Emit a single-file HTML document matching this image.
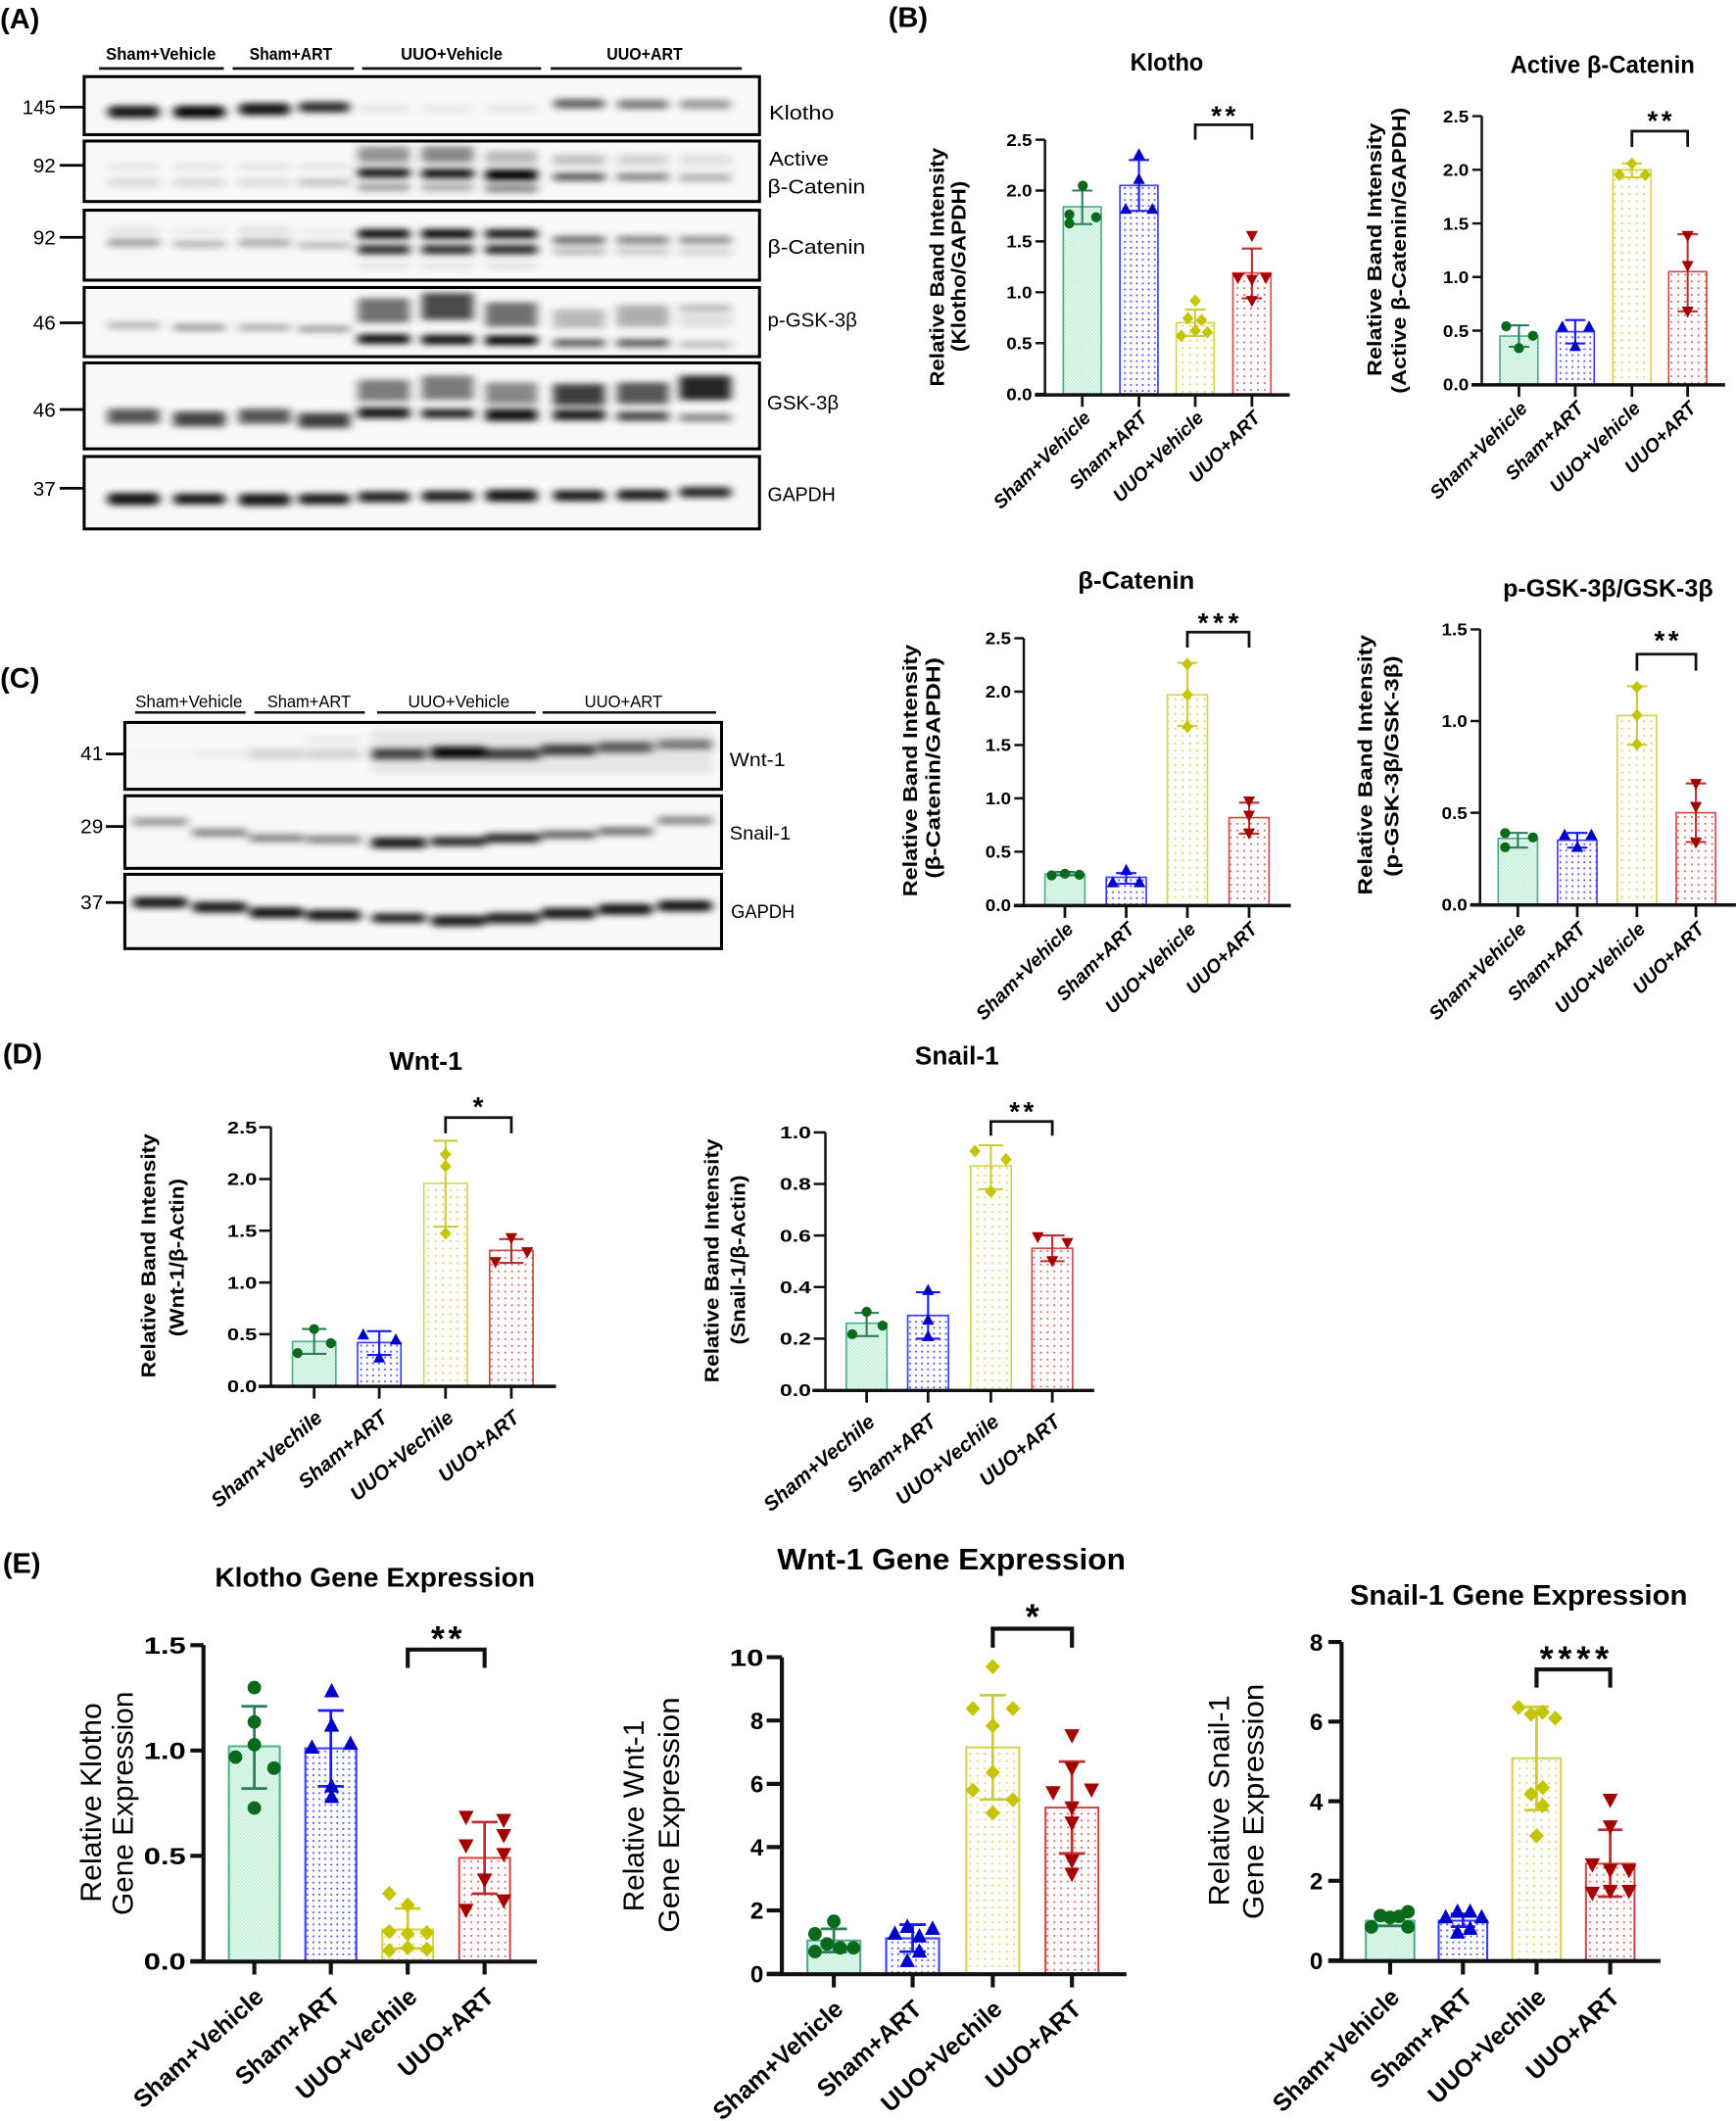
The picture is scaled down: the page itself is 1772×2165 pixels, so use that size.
<!DOCTYPE html>
<html><head><meta charset="utf-8"><style>
html,body{margin:0;padding:0;background:#fff;}
svg{display:block;}
text{font-family:"Liberation Sans",Arial,sans-serif;}
</style></head><body>
<svg xmlns="http://www.w3.org/2000/svg" width="1772" height="2165" viewBox="0 0 1280 1564">
<defs>
<pattern id="pMint" width="2.6" height="2.6" patternUnits="userSpaceOnUse"><rect width="2.6" height="2.6" fill="#f0fcf6"/><rect width="1.3" height="1.3" fill="#b8ecd2"/><rect x="1.3" y="1.3" width="1.3" height="1.3" fill="#b8ecd2"/></pattern>
<pattern id="pBlue" width="4.4" height="4.4" patternUnits="userSpaceOnUse"><rect width="4.4" height="4.4" fill="#fff"/><rect x="1.6" y="1.6" width="1.3" height="1.3" fill="#4848ff"/></pattern>
<pattern id="pYel" width="5.4" height="5.4" patternUnits="userSpaceOnUse"><rect width="5.4" height="5.4" fill="#fff"/><rect x="2" y="2" width="1.3" height="1.3" fill="#d6d650"/></pattern>
<pattern id="pRed" width="5" height="5" patternUnits="userSpaceOnUse"><rect width="5" height="5" fill="#fff"/><rect x="1.8" y="1.8" width="1.3" height="1.3" fill="#e05a5a"/></pattern>
<filter id="bl" filterUnits="userSpaceOnUse" x="0" y="0" width="1280" height="1564"><feGaussianBlur stdDeviation="3.4 2.3"/></filter>
<circle id="gB" r="3.7" fill="#0a6a1c"/>
<polygon id="tB" points="0,-4.8 -4.4,3.4 4.4,3.4" fill="#0000c8"/>
<polygon id="dB" points="0,-4.6 4.2,0 0,4.6 -4.2,0" fill="#c4c400"/>
<polygon id="iB" points="-4.4,-3.4 4.4,-3.4 0,4.8" fill="#a50000"/>
<circle id="gE" r="5" fill="#0a6a1c"/>
<polygon id="tE" points="0,-6.2 -5.6,4.4 5.6,4.4" fill="#0000c8"/>
<polygon id="dE" points="0,-5.6 5.4,0 0,5.6 -5.4,0" fill="#c4c400"/>
<polygon id="iE" points="-5.6,-4.4 5.6,-4.4 0,6.2" fill="#a50000"/>
</defs>
<rect width="1280" height="1564" fill="#fff"/>

<!-- ================= PANEL A ================= -->
<text x="0" y="21" font-size="21" font-weight="bold">(A)</text>
<g font-size="12.5" font-weight="bold" text-anchor="middle">
<text x="118.6" y="44" textLength="81" lengthAdjust="spacingAndGlyphs">Sham+Vehicle</text>
<text x="214.4" y="44" textLength="61" lengthAdjust="spacingAndGlyphs">Sham+ART</text>
<text x="333" y="44" textLength="75" lengthAdjust="spacingAndGlyphs">UUO+Vehicle</text>
<text x="475.3" y="44" textLength="56" lengthAdjust="spacingAndGlyphs">UUO+ART</text>
</g>
<path d="M73 50.5H165M171.5 50.5H261M267 50.5H399M406 50.5H547" stroke="#111" stroke-width="2"/>
<g fill="#f8f8f8">
<rect x="62" y="56.5" width="498" height="42.8"/>
<rect x="62" y="104" width="498" height="44.6"/>
<rect x="62" y="155" width="498" height="51.6"/>
<rect x="62" y="212" width="498" height="51"/>
<rect x="62" y="267.6" width="498" height="63.4"/>
<rect x="62" y="336.6" width="498" height="53.4"/>
</g>
<g filter="url(#bl)" fill="#000">
<rect x="79.5" y="78" width="38" height="9" rx="4" opacity=".9"/>
<rect x="128" y="78" width="38" height="9" rx="4" opacity=".97"/>
<rect x="176" y="76" width="38" height="9" rx="4" opacity=".9"/>
<rect x="220" y="75" width="38" height="8" rx="4" opacity=".8"/>
<rect x="264" y="76.5" width="38" height="7" rx="4" opacity=".06"/>
<rect x="311" y="76.5" width="38" height="7" rx="4" opacity=".05"/>
<rect x="358" y="76.5" width="38" height="7" rx="4" opacity=".06"/>
<rect x="408" y="73" width="38" height="7" rx="4" opacity=".6"/>
<rect x="455" y="73.5" width="38" height="7" rx="4" opacity=".5"/>
<rect x="501" y="73.5" width="38" height="7" rx="4" opacity=".38"/>
<rect x="79.5" y="120.5" width="38" height="5" opacity=".07"/><rect x="79.5" y="131.5" width="38" height="6" opacity=".13"/>
<rect x="128" y="120.5" width="38" height="5" opacity=".07"/><rect x="128" y="131.5" width="38" height="6" opacity=".13"/>
<rect x="176" y="120.5" width="38" height="5" opacity=".08"/><rect x="176" y="131.5" width="38" height="6" opacity=".12"/>
<rect x="220" y="120.5" width="38" height="5" opacity=".07"/><rect x="220" y="131.5" width="38" height="6" opacity=".2"/>
<rect x="264" y="108" width="38" height="12" opacity=".4"/><rect x="264" y="124" width="38" height="7" opacity=".9"/><rect x="264" y="135" width="38" height="6" opacity=".35"/>
<rect x="311" y="108" width="38" height="12" opacity=".45"/><rect x="311" y="124.5" width="38" height="7" opacity=".92"/><rect x="311" y="135" width="38" height="6" opacity=".3"/>
<rect x="358" y="111" width="38" height="10" opacity=".25"/><rect x="358" y="125" width="38" height="8" opacity="1"/><rect x="358" y="136" width="38" height="6" opacity=".45"/>
<rect x="408" y="114" width="38" height="8" opacity=".22"/><rect x="408" y="127.5" width="38" height="6" opacity=".62"/>
<rect x="455" y="114" width="38" height="8" opacity=".15"/><rect x="455" y="127.5" width="38" height="6" opacity=".45"/>
<rect x="501" y="114" width="38" height="8" opacity=".1"/><rect x="501" y="128" width="38" height="6" opacity=".28"/>
<rect x="79.5" y="168" width="38" height="4" opacity=".1"/><rect x="79.5" y="176" width="38" height="6" opacity=".35"/>
<rect x="128" y="168" width="38" height="4" opacity=".06"/><rect x="128" y="177.5" width="38" height="5" opacity=".28"/>
<rect x="176" y="168" width="38" height="4" opacity=".12"/><rect x="176" y="176" width="38" height="6" opacity=".3"/>
<rect x="220" y="169" width="38" height="4" opacity=".06"/><rect x="220" y="178.5" width="38" height="5" opacity=".25"/>
<rect x="264" y="169" width="38" height="7" opacity=".95"/><rect x="264" y="180.5" width="38" height="7" opacity=".8"/><rect x="264" y="193.5" width="38" height="5" opacity=".08"/>
<rect x="311" y="169" width="38" height="7" opacity=".97"/><rect x="311" y="180.5" width="38" height="7" opacity=".8"/><rect x="311" y="193.5" width="38" height="5" opacity=".08"/>
<rect x="358" y="169" width="38" height="7" opacity=".9"/><rect x="358" y="180.5" width="38" height="7" opacity=".82"/><rect x="358" y="193.5" width="38" height="5" opacity=".08"/>
<rect x="408" y="174" width="38" height="6" opacity=".55"/><rect x="408" y="183" width="38" height="5" opacity=".25"/>
<rect x="455" y="174" width="38" height="6" opacity=".45"/><rect x="455" y="183" width="38" height="5" opacity=".2"/>
<rect x="501" y="174" width="38" height="6" opacity=".4"/><rect x="501" y="183.5" width="38" height="5" opacity=".15"/>
<rect x="79.5" y="237.5" width="38" height="5" opacity=".28"/>
<rect x="128" y="239" width="38" height="5" opacity=".38"/>
<rect x="176" y="239" width="38" height="5" opacity=".3"/>
<rect x="220" y="240" width="38" height="5" opacity=".35"/>
<rect x="264" y="220" width="38" height="18" opacity=".55"/><rect x="264" y="246.5" width="38" height="7" opacity=".95"/>
<rect x="311" y="216" width="38" height="20" opacity=".7"/><rect x="311" y="247" width="38" height="7" opacity=".95"/>
<rect x="358" y="223" width="38" height="18" opacity=".55"/><rect x="358" y="247.5" width="38" height="7" opacity=".98"/>
<rect x="408" y="228" width="38" height="14" opacity=".25"/><rect x="408" y="250" width="38" height="6" opacity=".6"/>
<rect x="455" y="225" width="38" height="16" opacity=".3"/><rect x="455" y="250" width="38" height="6" opacity=".62"/>
<rect x="501" y="225" width="38" height="4" opacity=".3"/><rect x="501" y="231" width="38" height="10" opacity=".1"/><rect x="501" y="251.5" width="38" height="5" opacity=".25"/>
<rect x="79.5" y="301.5" width="38" height="11" opacity=".65"/>
<rect x="128" y="303.5" width="38" height="11" opacity=".72"/>
<rect x="176" y="301.5" width="38" height="11" opacity=".65"/>
<rect x="220" y="304.5" width="38" height="11" opacity=".75"/>
<rect x="264" y="280" width="38" height="16" opacity=".5"/><rect x="264" y="300.5" width="38" height="8" opacity=".9"/>
<rect x="311" y="277" width="38" height="18" opacity=".5"/><rect x="311" y="301.5" width="38" height="7" opacity=".85"/>
<rect x="358" y="282" width="38" height="16" opacity=".45"/><rect x="358" y="301.5" width="38" height="9" opacity=".92"/>
<rect x="408" y="283" width="38" height="16" opacity=".75"/><rect x="408" y="302" width="38" height="8" opacity=".88"/>
<rect x="455" y="282" width="38" height="16" opacity=".65"/><rect x="455" y="303.5" width="38" height="7" opacity=".7"/>
<rect x="501" y="277" width="38" height="18" opacity=".85"/><rect x="501" y="305" width="38" height="6" opacity=".45"/>
<rect x="79.5" y="363.5" width="38" height="9" rx="3" opacity=".92"/>
<rect x="128" y="364" width="38" height="8" rx="3" opacity=".9"/>
<rect x="176" y="364" width="38" height="9" rx="3" opacity=".9"/>
<rect x="220" y="364" width="38" height="8" rx="3" opacity=".88"/>
<rect x="264" y="362.5" width="38" height="8" rx="3" opacity=".85"/>
<rect x="311" y="362" width="38" height="8" rx="3" opacity=".87"/>
<rect x="358" y="361" width="38" height="9" rx="3" opacity=".9"/>
<rect x="408" y="361.5" width="38" height="8" rx="3" opacity=".88"/>
<rect x="455" y="361" width="38" height="8" rx="3" opacity=".88"/>
<rect x="501" y="359" width="38" height="8" rx="3" opacity=".82"/>
</g>
<g fill="none" stroke="#000" stroke-width="2.2">
<rect x="62" y="56.5" width="498" height="42.8"/>
<rect x="62" y="104" width="498" height="44.6"/>
<rect x="62" y="155" width="498" height="51.6"/>
<rect x="62" y="212" width="498" height="51"/>
<rect x="62" y="267.6" width="498" height="63.4"/>
<rect x="62" y="336.6" width="498" height="53.4"/>
</g>
<path d="M44 79H62M44 121.9H62M44 175H62M44 238H62M44 302H62M44 360H62" stroke="#000" stroke-width="2"/>
<g font-size="15" text-anchor="end">
<text x="41" y="84.3" textLength="24.6" lengthAdjust="spacingAndGlyphs">145</text>
<text x="41" y="127">92</text>
<text x="41" y="180.2">92</text>
<text x="41" y="243.2">46</text>
<text x="41" y="307.3">46</text>
<text x="41" y="365.6">37</text>
</g>
<g font-size="15">
<text x="567" y="88" textLength="48" lengthAdjust="spacingAndGlyphs">Klotho</text>
<text x="567" y="122" textLength="44" lengthAdjust="spacingAndGlyphs">Active</text>
<text x="566" y="142.6" textLength="72" lengthAdjust="spacingAndGlyphs">β-Catenin</text>
<text x="566" y="187" textLength="72" lengthAdjust="spacingAndGlyphs">β-Catenin</text>
<text x="566" y="241" textLength="66" lengthAdjust="spacingAndGlyphs">p-GSK-3β</text>
<text x="565.5" y="302" textLength="53" lengthAdjust="spacingAndGlyphs">GSK-3β</text>
<text x="566" y="369.5" textLength="50" lengthAdjust="spacingAndGlyphs">GAPDH</text>
</g>

<!-- ================= PANEL C ================= -->
<text x="0" y="507" font-size="21" font-weight="bold">(C)</text>
<g font-size="13" text-anchor="middle">
<text x="139.2" y="521.7" textLength="79" lengthAdjust="spacingAndGlyphs">Sham+Vehicle</text>
<text x="227.8" y="521.7" textLength="61.6" lengthAdjust="spacingAndGlyphs">Sham+ART</text>
<text x="338.3" y="521.7" textLength="75" lengthAdjust="spacingAndGlyphs">UUO+Vehicle</text>
<text x="459.7" y="521.7" textLength="57.4" lengthAdjust="spacingAndGlyphs">UUO+ART</text>
</g>
<path d="M99.6 525.4H181M187.6 525.4H269M278 525.4H395M400 525.4H528" stroke="#111" stroke-width="1.8"/>
<g fill="#f8f8f8">
<rect x="92" y="532.7" width="440" height="49.3"/>
<rect x="92" y="586.8" width="440" height="53.5"/>
<rect x="92" y="644.7" width="440" height="54.8"/>
</g>
<g filter="url(#bl)" fill="#000">
<rect x="274" y="538" width="251" height="32" opacity=".07"/>
<rect x="98" y="552.5" width="40" height="7" opacity=".02"/>
<rect x="142" y="552.5" width="40" height="7" opacity=".04"/>
<rect x="184" y="552" width="40" height="8" opacity=".15"/>
<rect x="226" y="552" width="40" height="8" opacity=".15"/>
<rect x="226" y="542.5" width="40" height="5" opacity=".06"/>
<rect x="274" y="552" width="40" height="8" opacity=".72"/>
<rect x="318" y="550.5" width="40" height="9" opacity=".97"/>
<rect x="358" y="552" width="40" height="8" opacity=".75"/>
<rect x="399" y="549" width="40" height="8" opacity=".75"/>
<rect x="441" y="547" width="40" height="8" opacity=".62"/>
<rect x="485" y="545.5" width="40" height="7" opacity=".5"/>
<rect x="98" y="603" width="40" height="6" opacity=".38"/>
<rect x="142" y="611" width="40" height="6" opacity=".45"/>
<rect x="184" y="615" width="40" height="6" opacity=".45"/>
<rect x="226" y="616" width="40" height="6" opacity=".45"/>
<rect x="274" y="617.5" width="40" height="8" opacity=".88"/>
<rect x="318" y="617" width="40" height="7" opacity=".82"/>
<rect x="358" y="614.5" width="40" height="7" opacity=".82"/>
<rect x="399" y="612.5" width="40" height="6" opacity=".6"/>
<rect x="441" y="610" width="40" height="6" opacity=".55"/>
<rect x="485" y="602" width="40" height="6" opacity=".45"/>
<rect x="98" y="661.5" width="40" height="8" rx="3" opacity=".9"/>
<rect x="142" y="665" width="40" height="8" rx="3" opacity=".88"/>
<rect x="184" y="669" width="40" height="8" rx="3" opacity=".92"/>
<rect x="226" y="671" width="40" height="8" rx="3" opacity=".9"/>
<rect x="274" y="673.5" width="40" height="7" rx="3" opacity=".85"/>
<rect x="318" y="675" width="40" height="8" rx="3" opacity=".88"/>
<rect x="358" y="673" width="40" height="8" rx="3" opacity=".85"/>
<rect x="399" y="669.5" width="40" height="8" rx="3" opacity=".9"/>
<rect x="441" y="666.5" width="40" height="8" rx="3" opacity=".92"/>
<rect x="485" y="664" width="40" height="8" rx="3" opacity=".92"/>
</g>
<g fill="none" stroke="#000" stroke-width="2.2">
<rect x="92" y="532.7" width="440" height="49.3"/>
<rect x="92" y="586.8" width="440" height="53.5"/>
<rect x="92" y="644.7" width="440" height="54.8"/>
</g>
<path d="M78 556H92M78 609.4H92M78 665.5H92" stroke="#000" stroke-width="2"/>
<g font-size="15" text-anchor="end">
<text x="76" y="560.7">41</text>
<text x="76" y="614.3">29</text>
<text x="76" y="670.3">37</text>
</g>
<g font-size="14">
<text x="538" y="565" textLength="41" lengthAdjust="spacingAndGlyphs">Wnt-1</text>
<text x="538" y="619" textLength="45" lengthAdjust="spacingAndGlyphs">Snail-1</text>
<text x="539" y="677" textLength="47" lengthAdjust="spacingAndGlyphs">GAPDH</text>
</g>

<!-- ================= PANEL B ================= -->
<text x="655" y="20" font-size="21" font-weight="bold">(B)</text>

<g>
<text x="860.3" y="52" font-size="18" font-weight="bold" text-anchor="middle" textLength="54" lengthAdjust="spacingAndGlyphs">Klotho</text>
<rect x="784" y="152.5" width="28" height="138" fill="url(#pMint)" stroke="#4fae8c" stroke-width="1.2"/>
<rect x="825.8" y="136.75" width="28" height="153.75" fill="url(#pBlue)" stroke="#3c3cff" stroke-width="1.2"/>
<rect x="867.3" y="238" width="28" height="52.5" fill="url(#pYel)" stroke="#d4d44c" stroke-width="1.2"/>
<rect x="909.1" y="201.25" width="28" height="89.25" fill="url(#pRed)" stroke="#d04848" stroke-width="1.2"/>
<g fill="none" stroke-width="1.5">
<path d="M798 165.25V140.5M790.5 165.25H805.5M790.5 140.5H805.5" stroke="#2b7d5c"/>
<path d="M839.8 155.5V118M832.3 155.5H847.3M832.3 118H847.3" stroke="#1a1aff"/>
<path d="M881.3 247.75V228.25M873.8 247.75H888.8M873.8 228.25H888.8" stroke="#cccc3a"/>
<path d="M923.1 220V183.25M915.6 220H930.6M915.6 183.25H930.6" stroke="#b83030"/>
</g>
<use href="#gB" x="798.4" y="136.9"/><use href="#gB" x="788.5" y="158.2"/><use href="#gB" x="808.2" y="160.2"/><use href="#gB" x="788.5" y="164.7"/>
<use href="#tB" x="839.8" y="114.1"/><use href="#tB" x="839.8" y="132.2"/><use href="#tB" x="830" y="154.3"/><use href="#tB" x="849.7" y="154.3"/>
<use href="#dB" x="881.3" y="221.7"/><use href="#dB" x="875.9" y="234.7"/><use href="#dB" x="886" y="236"/><use href="#dB" x="881.3" y="243.7"/><use href="#dB" x="871" y="247.6"/><use href="#dB" x="890.3" y="245"/>
<use href="#iB" x="923.1" y="173.7"/><use href="#iB" x="912.8" y="204.8"/><use href="#iB" x="933.4" y="204.8"/><use href="#iB" x="923.1" y="206.1"/><use href="#iB" x="923.1" y="221.7"/>
<g stroke="#111" fill="none">
<path d="M770.5 103V291.5" stroke-width="1.8"/>
<path d="M763 291.2H951" stroke-width="2.5"/>
<path d="M763.5 290.5H770.5M763.5 253H770.5M763.5 215.5H770.5M763.5 178H770.5M763.5 140.5H770.5M763.5 103H770.5" stroke-width="1.8"/>
<path d="M798 291V300M839.8 291V300M881.3 291V300M923.1 291V300" stroke-width="2"/>
<path d="M881.3 103V92H923.1V103" stroke-width="2"/>
</g>
<g font-size="13" font-weight="bold" text-anchor="end">
<text x="761" y="295" textLength="19" lengthAdjust="spacingAndGlyphs">0.0</text>
<text x="761" y="257.5" textLength="19" lengthAdjust="spacingAndGlyphs">0.5</text>
<text x="761" y="220" textLength="19" lengthAdjust="spacingAndGlyphs">1.0</text>
<text x="761" y="182.5" textLength="19" lengthAdjust="spacingAndGlyphs">1.5</text>
<text x="761" y="145" textLength="19" lengthAdjust="spacingAndGlyphs">2.0</text>
<text x="761" y="107.5" textLength="19" lengthAdjust="spacingAndGlyphs">2.5</text>
</g>
<text x="903.3" y="92" font-size="20" font-weight="bold" text-anchor="middle" letter-spacing="2.5">**</text>
<g font-size="15" font-weight="bold" text-anchor="middle">
<text transform="translate(696,197) rotate(-90)" textLength="176" lengthAdjust="spacingAndGlyphs">Relative Band Intensity</text>
<text transform="translate(712,196.4) rotate(-90)" textLength="126" lengthAdjust="spacingAndGlyphs">(Klotho/GAPDH)</text>
</g>
<g font-size="14" font-weight="bold" font-style="italic" text-anchor="end">
<text transform="translate(805,309) rotate(-45)">Sham+Vehicle</text>
<text transform="translate(846.8,309) rotate(-45)">Sham+ART</text>
<text transform="translate(888.3,309) rotate(-45)">UUO+Vehicle</text>
<text transform="translate(930.1,309) rotate(-45)">UUO+ART</text>
</g>
</g>

<g>
<text x="1181.6" y="54" font-size="18" font-weight="bold" text-anchor="middle" textLength="136" lengthAdjust="spacingAndGlyphs">Active β-Catenin</text>
<rect x="1106" y="247.8" width="28" height="35.6" fill="url(#pMint)" stroke="#4fae8c" stroke-width="1.2"/>
<rect x="1147.5" y="244.6" width="28" height="38.8" fill="url(#pBlue)" stroke="#3c3cff" stroke-width="1.2"/>
<rect x="1189.3" y="125.2" width="28" height="158.2" fill="url(#pYel)" stroke="#d4d44c" stroke-width="1.2"/>
<rect x="1230.4" y="200.3" width="28" height="83.1" fill="url(#pRed)" stroke="#d04848" stroke-width="1.2"/>
<g fill="none" stroke-width="1.5">
<path d="M1120 255.7V239.9M1112.5 255.7H1127.5M1112.5 239.9H1127.5" stroke="#2b7d5c"/>
<path d="M1161.5 253.3V236M1154 253.3H1169M1154 236H1169" stroke="#1a1aff"/>
<path d="M1203.3 130.7V120.5M1195.8 130.7H1210.8M1195.8 120.5H1210.8" stroke="#cccc3a"/>
<path d="M1244.4 229.6V172.7M1236.9 229.6H1251.9M1236.9 172.7H1251.9" stroke="#b83030"/>
</g>
<use href="#gB" x="1110.6" y="240.6"/><use href="#gB" x="1130.3" y="247.6"/><use href="#gB" x="1120" y="256.7"/>
<use href="#tB" x="1152" y="241.1"/><use href="#tB" x="1171.7" y="241.1"/><use href="#tB" x="1161.5" y="255.4"/>
<use href="#dB" x="1203.3" y="120.6"/><use href="#dB" x="1193.9" y="128.9"/><use href="#dB" x="1213.2" y="128.9"/>
<use href="#iB" x="1244.4" y="173.7"/><use href="#iB" x="1244.4" y="195.8"/><use href="#iB" x="1244.4" y="229.5"/>
<g stroke="#111" fill="none">
<path d="M1092.6 85.6V284" stroke-width="1.8"/>
<path d="M1085 283.8H1272" stroke-width="2.5"/>
<path d="M1085.6 283.4H1092.6M1085.6 243.85H1092.6M1085.6 204.3H1092.6M1085.6 164.75H1092.6M1085.6 125.2H1092.6M1085.6 85.65H1092.6" stroke-width="1.8"/>
<path d="M1120 283.6V292.6M1161.5 283.6V292.6M1203.3 283.6V292.6M1244.4 283.6V292.6" stroke-width="2"/>
<path d="M1203.3 108.4V96.7H1244.4V108.4" stroke-width="2"/>
</g>
<g font-size="13" font-weight="bold" text-anchor="end">
<text x="1083" y="287.9" textLength="19" lengthAdjust="spacingAndGlyphs">0.0</text>
<text x="1083" y="248.35" textLength="19" lengthAdjust="spacingAndGlyphs">0.5</text>
<text x="1083" y="208.8" textLength="19" lengthAdjust="spacingAndGlyphs">1.0</text>
<text x="1083" y="169.25" textLength="19" lengthAdjust="spacingAndGlyphs">1.5</text>
<text x="1083" y="129.7" textLength="19" lengthAdjust="spacingAndGlyphs">2.0</text>
<text x="1083" y="90.15" textLength="19" lengthAdjust="spacingAndGlyphs">2.5</text>
</g>
<text x="1225" y="95.6" font-size="20" font-weight="bold" text-anchor="middle" letter-spacing="2.5">**</text>
<g font-size="15" font-weight="bold" text-anchor="middle">
<text transform="translate(1018.4,184.1) rotate(-90)" textLength="186.6" lengthAdjust="spacingAndGlyphs">Relative Band Intensity</text>
<text transform="translate(1036.5,184.7) rotate(-90)" textLength="211" lengthAdjust="spacingAndGlyphs">(Active β-Catenin/GAPDH)</text>
</g>
<g font-size="14" font-weight="bold" font-style="italic" text-anchor="end">
<text transform="translate(1127,302) rotate(-45)">Sham+Vehicle</text>
<text transform="translate(1168.5,302) rotate(-45)">Sham+ART</text>
<text transform="translate(1210.3,302) rotate(-45)">UUO+Vehicle</text>
<text transform="translate(1251.4,302) rotate(-45)">UUO+ART</text>
</g>
</g>

<g>
<text x="837.8" y="434" font-size="18" font-weight="bold" text-anchor="middle" textLength="86" lengthAdjust="spacingAndGlyphs">β-Catenin</text>
<rect x="770.45" y="644.6" width="29.5" height="22.8" fill="url(#pMint)" stroke="#4fae8c" stroke-width="1.2"/>
<rect x="815.65" y="646.9" width="29.5" height="20.5" fill="url(#pBlue)" stroke="#3c3cff" stroke-width="1.2"/>
<rect x="860.75" y="512.4" width="29.5" height="155" fill="url(#pYel)" stroke="#d4d44c" stroke-width="1.2"/>
<rect x="906.25" y="602.9" width="29.5" height="64.5" fill="url(#pRed)" stroke="#d04848" stroke-width="1.2"/>
<g fill="none" stroke-width="1.5">
<path d="M785.2 645.4V643M777.7 645.4H792.7M777.7 643H792.7" stroke="#2b7d5c"/>
<path d="M830.4 651.7V643.8M822.9 651.7H837.9M822.9 643.8H837.9" stroke="#1a1aff"/>
<path d="M875.5 535.2V488.8M868 535.2H883M868 488.8H883" stroke="#cccc3a"/>
<path d="M921 614.7V591.9M913.5 614.7H928.5M913.5 591.9H928.5" stroke="#b83030"/>
</g>
<use href="#gB" x="775.4" y="645.5"/><use href="#gB" x="785.2" y="644.3"/><use href="#gB" x="795.9" y="645"/>
<use href="#tB" x="830.4" y="641.8"/><use href="#tB" x="820.5" y="650.8"/><use href="#tB" x="840.2" y="650.8"/>
<use href="#dB" x="875.5" y="489.7"/><use href="#dB" x="875.5" y="512.3"/><use href="#dB" x="875.5" y="535.9"/>
<use href="#iB" x="921" y="590.7"/><use href="#iB" x="921" y="601.2"/><use href="#iB" x="921" y="614.3"/>
<g stroke="#111" fill="none">
<path d="M754.9 470.6V668" stroke-width="1.8"/>
<path d="M747.5 667.8H951.8" stroke-width="2.5"/>
<path d="M747.9 667.4H754.9M747.9 628.05H754.9M747.9 588.7H754.9M747.9 549.35H754.9M747.9 510H754.9M747.9 470.65H754.9" stroke-width="1.8"/>
<path d="M785.2 667.8V676.8M830.4 667.8V676.8M875.5 667.8V676.8M921 667.8V676.8" stroke-width="2"/>
<path d="M875.5 477.5V466.1H921V477.5" stroke-width="2"/>
</g>
<g font-size="13" font-weight="bold" text-anchor="end">
<text x="745.5" y="671.9" textLength="19" lengthAdjust="spacingAndGlyphs">0.0</text>
<text x="745.5" y="632.55" textLength="19" lengthAdjust="spacingAndGlyphs">0.5</text>
<text x="745.5" y="593.2" textLength="19" lengthAdjust="spacingAndGlyphs">1.0</text>
<text x="745.5" y="553.85" textLength="19" lengthAdjust="spacingAndGlyphs">1.5</text>
<text x="745.5" y="514.5" textLength="19" lengthAdjust="spacingAndGlyphs">2.0</text>
<text x="745.5" y="475.15" textLength="19" lengthAdjust="spacingAndGlyphs">2.5</text>
</g>
<text x="900" y="466" font-size="20" font-weight="bold" text-anchor="middle" letter-spacing="3.4">***</text>
<g font-size="15" font-weight="bold" text-anchor="middle">
<text transform="translate(676,568.2) rotate(-90)" textLength="186" lengthAdjust="spacingAndGlyphs">Relative Band Intensity</text>
<text transform="translate(693,566.3) rotate(-90)" textLength="163" lengthAdjust="spacingAndGlyphs">(β-Catenin/GAPDH)</text>
</g>
<g font-size="14" font-weight="bold" font-style="italic" text-anchor="end">
<text transform="translate(792.2,686) rotate(-45)">Sham+Vehicle</text>
<text transform="translate(837.4,686) rotate(-45)">Sham+ART</text>
<text transform="translate(882.5,686) rotate(-45)">UUO+Vehicle</text>
<text transform="translate(928,686) rotate(-45)">UUO+ART</text>
</g>
</g>

<g>
<text x="1185.7" y="440" font-size="18" font-weight="bold" text-anchor="middle" textLength="155" lengthAdjust="spacingAndGlyphs">p-GSK-3β/GSK-3β</text>
<rect x="1104.7" y="618.2" width="29" height="48.7" fill="url(#pMint)" stroke="#4fae8c" stroke-width="1.2"/>
<rect x="1148.5" y="619.6" width="29" height="47.3" fill="url(#pBlue)" stroke="#3c3cff" stroke-width="1.2"/>
<rect x="1192.5" y="527.6" width="29" height="139.3" fill="url(#pYel)" stroke="#d4d44c" stroke-width="1.2"/>
<rect x="1236" y="599.3" width="29" height="67.6" fill="url(#pRed)" stroke="#d04848" stroke-width="1.2"/>
<g fill="none" stroke-width="1.5">
<path d="M1119.2 625V614.2M1111.7 625H1126.7M1111.7 614.2H1126.7" stroke="#2b7d5c"/>
<path d="M1163 625V614.2M1155.5 625H1170.5M1155.5 614.2H1170.5" stroke="#1a1aff"/>
<path d="M1207 549.3V506M1199.5 549.3H1214.5M1199.5 506H1214.5" stroke="#cccc3a"/>
<path d="M1250.5 620.9V577.7M1243 620.9H1258M1243 577.7H1258" stroke="#b83030"/>
</g>
<use href="#gB" x="1109.8" y="614.3"/><use href="#gB" x="1130.3" y="617.5"/><use href="#gB" x="1109.8" y="624.8"/>
<use href="#tB" x="1153.7" y="615.8"/><use href="#tB" x="1173.4" y="615.8"/><use href="#tB" x="1163.1" y="624.8"/>
<use href="#dB" x="1207" y="506.7"/><use href="#dB" x="1207" y="527.4"/><use href="#dB" x="1207" y="548.8"/>
<use href="#iB" x="1250.5" y="577.8"/><use href="#iB" x="1250.5" y="594.8"/><use href="#iB" x="1250.5" y="621.1"/>
<g stroke="#111" fill="none">
<path d="M1091.3 464V667.5" stroke-width="1.8"/>
<path d="M1084 667.3H1280" stroke-width="2.5"/>
<path d="M1084.3 666.9H1091.3M1084.3 599.3H1091.3M1084.3 531.7H1091.3M1084.3 464.1H1091.3" stroke-width="1.8"/>
<path d="M1119.2 667.3V676.3M1163 667.3V676.3M1207 667.3V676.3M1250.5 667.3V676.3" stroke-width="2"/>
<path d="M1207 494.6V482.4H1250.5V494.6" stroke-width="2"/>
</g>
<g font-size="13" font-weight="bold" text-anchor="end">
<text x="1082" y="671.4" textLength="19" lengthAdjust="spacingAndGlyphs">0.0</text>
<text x="1082" y="603.8" textLength="19" lengthAdjust="spacingAndGlyphs">0.5</text>
<text x="1082" y="536.2" textLength="19" lengthAdjust="spacingAndGlyphs">1.0</text>
<text x="1082" y="468.6" textLength="19" lengthAdjust="spacingAndGlyphs">1.5</text>
</g>
<text x="1230" y="479" font-size="20" font-weight="bold" text-anchor="middle" letter-spacing="2.5">**</text>
<g font-size="15" font-weight="bold" text-anchor="middle">
<text transform="translate(1011.5,564) rotate(-90)" textLength="191.8" lengthAdjust="spacingAndGlyphs">Relative Band Intensity</text>
<text transform="translate(1031,565) rotate(-90)" textLength="163" lengthAdjust="spacingAndGlyphs">(p-GSK-3β/GSK-3β)</text>
</g>
<g font-size="14" font-weight="bold" font-style="italic" text-anchor="end">
<text transform="translate(1126.2,686) rotate(-45)">Sham+Vehicle</text>
<text transform="translate(1170,686) rotate(-45)">Sham+ART</text>
<text transform="translate(1214,686) rotate(-45)">UUO+Vehicle</text>
<text transform="translate(1257.5,686) rotate(-45)">UUO+ART</text>
</g>
</g>

<!-- ================= PANEL D ================= -->
<text x="2" y="784" font-size="21" font-weight="bold">(D)</text>

<g>
<text x="314" y="789" font-size="19" font-weight="bold" text-anchor="middle" textLength="54" lengthAdjust="spacingAndGlyphs">Wnt-1</text>
<rect x="215.6" y="989.2" width="32" height="32.8" fill="url(#pMint)" stroke="#4fae8c" stroke-width="1.2"/>
<rect x="263.6" y="990" width="32" height="32" fill="url(#pBlue)" stroke="#3c3cff" stroke-width="1.2"/>
<rect x="312.5" y="872.5" width="32" height="149.5" fill="url(#pYel)" stroke="#d4d44c" stroke-width="1.2"/>
<rect x="361" y="922" width="32" height="100" fill="url(#pRed)" stroke="#d04848" stroke-width="1.2"/>
<g fill="none" stroke-width="1.5">
<path d="M231.6 998.3V980M222.6 998.3H240.6M222.6 980H240.6" stroke="#2b7d5c"/>
<path d="M279.6 999.1V981.6M270.6 999.1H288.6M270.6 981.6H288.6" stroke="#1a1aff"/>
<path d="M328.5 904.5V841.2M319.5 904.5H337.5M319.5 841.2H337.5" stroke="#cccc3a"/>
<path d="M377 931.2V913.7M368 931.2H386M368 913.7H386" stroke="#b83030"/>
</g>
<use href="#gB" x="231.6" y="980"/><use href="#gB" x="243.9" y="990.4"/><use href="#gB" x="219.4" y="997.7"/>
<use href="#tB" x="267.8" y="984.3"/><use href="#tB" x="291.8" y="988"/><use href="#tB" x="279.6" y="1001.3"/>
<use href="#dB" x="328.5" y="851.2"/><use href="#dB" x="328.5" y="860"/><use href="#dB" x="328.5" y="909.5"/>
<use href="#iB" x="377" y="912.7"/><use href="#iB" x="388.7" y="923.1"/><use href="#iB" x="365.3" y="930.4"/>
<g stroke="#111" fill="none">
<path d="M199.7 831V1022.5" stroke-width="1.8"/>
<path d="M190.6 1022.3H410" stroke-width="2.5"/>
<path d="M191 1022H199.7M191 983.85H199.7M191 945.7H199.7M191 907.55H199.7M191 869.4H199.7M191 831.25H199.7" stroke-width="1.8"/>
<path d="M231.6 1022.3V1031.3M279.6 1022.3V1031.3M328.5 1022.3V1031.3M377 1022.3V1031.3" stroke-width="2"/>
<path d="M328.5 835.7V824.1H377V835.7" stroke-width="2"/>
</g>
<g font-size="13" font-weight="bold" text-anchor="end">
<text x="189.5" y="1026.5" textLength="22" lengthAdjust="spacingAndGlyphs">0.0</text>
<text x="189.5" y="988.35" textLength="22" lengthAdjust="spacingAndGlyphs">0.5</text>
<text x="189.5" y="950.2" textLength="22" lengthAdjust="spacingAndGlyphs">1.0</text>
<text x="189.5" y="912.05" textLength="22" lengthAdjust="spacingAndGlyphs">1.5</text>
<text x="189.5" y="873.9" textLength="22" lengthAdjust="spacingAndGlyphs">2.0</text>
<text x="189.5" y="835.75" textLength="22" lengthAdjust="spacingAndGlyphs">2.5</text>
</g>
<text x="352.5" y="823" font-size="20" font-weight="bold" text-anchor="middle">*</text>
<g font-size="15" font-weight="bold" text-anchor="middle">
<text transform="translate(114.5,926) rotate(-90)" textLength="180" lengthAdjust="spacingAndGlyphs">Relative Band Intensity</text>
<text transform="translate(135.5,927.3) rotate(-90)" textLength="116.5" lengthAdjust="spacingAndGlyphs">(Wnt-1/β-Actin)</text>
</g>
<g font-size="15" font-weight="bold" font-style="italic" text-anchor="end">
<text transform="translate(238.6,1047) rotate(-40)">Sham+Vechile</text>
<text transform="translate(286.6,1047) rotate(-40)">Sham+ART</text>
<text transform="translate(335.5,1047) rotate(-40)">UUO+Vechile</text>
<text transform="translate(384,1047) rotate(-40)">UUO+ART</text>
</g>
</g>

<g>
<text x="705.6" y="785" font-size="19" font-weight="bold" text-anchor="middle" textLength="62" lengthAdjust="spacingAndGlyphs">Snail-1</text>
<rect x="624" y="975.7" width="30" height="49.4" fill="url(#pMint)" stroke="#4fae8c" stroke-width="1.2"/>
<rect x="669.3" y="970" width="30" height="55.1" fill="url(#pBlue)" stroke="#3c3cff" stroke-width="1.2"/>
<rect x="715.6" y="859.7" width="30" height="165.4" fill="url(#pYel)" stroke="#d4d44c" stroke-width="1.2"/>
<rect x="760.9" y="920.5" width="30" height="104.6" fill="url(#pRed)" stroke="#d04848" stroke-width="1.2"/>
<g fill="none" stroke-width="1.5">
<path d="M639 985.2V968.1M630 985.2H648M630 968.1H648" stroke="#2b7d5c"/>
<path d="M684.3 987.1V952.9M675.3 987.1H693.3M675.3 952.9H693.3" stroke="#1a1aff"/>
<path d="M730.6 876.8V844.5M721.6 876.8H739.6M721.6 844.5H739.6" stroke="#cccc3a"/>
<path d="M775.9 930V911M766.9 930H784.9M766.9 911H784.9" stroke="#b83030"/>
</g>
<use href="#gB" x="639" y="967.3"/><use href="#gB" x="650.7" y="977.5"/><use href="#gB" x="628.4" y="983.8"/>
<use href="#tB" x="684.3" y="951.5"/><use href="#tB" x="684.3" y="973.4"/><use href="#tB" x="684.3" y="985.5"/>
<use href="#dB" x="718.9" y="848.8"/><use href="#dB" x="741.8" y="854.9"/><use href="#dB" x="730.6" y="878.7"/>
<use href="#iB" x="765.2" y="912"/><use href="#iB" x="787" y="916.3"/><use href="#iB" x="775.9" y="929.7"/>
<g stroke="#111" fill="none">
<path d="M608.6 835V1025.5" stroke-width="1.8"/>
<path d="M599 1025.3H806.8" stroke-width="2.5"/>
<path d="M600 1025.1H608.6M600 987.08H608.6M600 949.06H608.6M600 911.04H608.6M600 873.02H608.6M600 835H608.6" stroke-width="1.8"/>
<path d="M639 1025.3V1034.3M684.3 1025.3V1034.3M730.6 1025.3V1034.3M775.9 1025.3V1034.3" stroke-width="2"/>
<path d="M730.6 837.4V827H775.9V837.4" stroke-width="2"/>
</g>
<g font-size="13" font-weight="bold" text-anchor="end">
<text x="598" y="1029.6" textLength="23" lengthAdjust="spacingAndGlyphs">0.0</text>
<text x="598" y="991.6" textLength="23" lengthAdjust="spacingAndGlyphs">0.2</text>
<text x="598" y="953.6" textLength="23" lengthAdjust="spacingAndGlyphs">0.4</text>
<text x="598" y="915.5" textLength="23" lengthAdjust="spacingAndGlyphs">0.6</text>
<text x="598" y="877.5" textLength="23" lengthAdjust="spacingAndGlyphs">0.8</text>
<text x="598" y="839.5" textLength="23" lengthAdjust="spacingAndGlyphs">1.0</text>
</g>
<text x="754.5" y="826.4" font-size="20" font-weight="bold" text-anchor="middle" letter-spacing="2.5">**</text>
<g font-size="15" font-weight="bold" text-anchor="middle">
<text transform="translate(529.8,929.6) rotate(-90)" textLength="179.7" lengthAdjust="spacingAndGlyphs">Relative Band Intensity</text>
<text transform="translate(549.5,929) rotate(-90)" textLength="125" lengthAdjust="spacingAndGlyphs">(Snail-1/β-Actin)</text>
</g>
<g font-size="15" font-weight="bold" font-style="italic" text-anchor="end">
<text transform="translate(646,1050) rotate(-40)">Sham+Vechile</text>
<text transform="translate(691.3,1050) rotate(-40)">Sham+ART</text>
<text transform="translate(737.6,1050) rotate(-40)">UUO+Vechile</text>
<text transform="translate(782.9,1050) rotate(-40)">UUO+ART</text>
</g>
</g>

<!-- ================= PANEL E ================= -->
<text x="2" y="1160" font-size="21" font-weight="bold">(E)</text>

<g>
<text x="276.4" y="1170" font-size="20" font-weight="bold" text-anchor="middle" textLength="236" lengthAdjust="spacingAndGlyphs">Klotho Gene Expression</text>
<rect x="168.75" y="1287.7" width="37.5" height="158.4" fill="url(#pMint)" stroke="#4fae8c" stroke-width="1.5"/>
<rect x="225.15" y="1289.2" width="37.5" height="156.9" fill="url(#pBlue)" stroke="#3c3cff" stroke-width="1.5"/>
<rect x="281.85" y="1422.8" width="37.5" height="23.3" fill="url(#pYel)" stroke="#d4d44c" stroke-width="1.5"/>
<rect x="338.55" y="1370" width="37.5" height="76.1" fill="url(#pRed)" stroke="#d04848" stroke-width="1.5"/>
<g fill="none" stroke-width="2">
<path d="M187.5 1318.8V1258.2M178 1318.8H197M178 1258.2H197" stroke="#2b7d5c"/>
<path d="M243.9 1317.2V1261.3M234.4 1317.2H253.4M234.4 1261.3H253.4" stroke="#1a1aff"/>
<path d="M300.6 1436.8V1407.3M291.1 1436.8H310.1M291.1 1407.3H310.1" stroke="#cccc3a"/>
<path d="M357.3 1396.4V1343.6M347.8 1396.4H366.8M347.8 1343.6H366.8" stroke="#b83030"/>
</g>
<use href="#gE" x="187.5" y="1244.4"/><use href="#gE" x="187.5" y="1269.7"/><use href="#gE" x="187.5" y="1286.5"/><use href="#gE" x="173.6" y="1295.7"/><use href="#gE" x="202" y="1303.8"/><use href="#gE" x="187.5" y="1333.2"/>
<use href="#tE" x="244.5" y="1247.2"/><use href="#tE" x="244.5" y="1272.5"/><use href="#tE" x="230" y="1288.7"/><use href="#tE" x="258.4" y="1285.9"/><use href="#tE" x="244.5" y="1317.3"/><use href="#tE" x="244.5" y="1325.1"/>
<use href="#dE" x="287" y="1396.3"/><use href="#dE" x="300.6" y="1404.7"/><use href="#dE" x="287" y="1424.3"/><use href="#dE" x="300.6" y="1426"/><use href="#dE" x="314.7" y="1425.1"/><use href="#dE" x="287" y="1438.3"/><use href="#dE" x="300.6" y="1436.3"/><use href="#dE" x="314.7" y="1437.2"/>
<use href="#iE" x="343.6" y="1339.7"/><use href="#iE" x="371.4" y="1341.9"/><use href="#iE" x="371.4" y="1353.1"/><use href="#iE" x="343.6" y="1360.7"/><use href="#iE" x="371.4" y="1367.1"/><use href="#iE" x="357.3" y="1385.9"/><use href="#iE" x="371.4" y="1401.3"/><use href="#iE" x="343.6" y="1408.3"/>
<g stroke="#111" fill="none" stroke-width="3">
<path d="M150 1213V1447.5"/>
<path d="M140.3 1446.5H395.9"/>
<path d="M140.3 1446.1H150M140.3 1368.45H150M140.3 1290.8H150M140.3 1213.15H150"/>
<path d="M187.5 1446V1456M243.9 1446V1456M300.6 1446V1456M357.3 1446V1456"/>
<path d="M300.6 1229.9V1216.4H357.3V1229.9"/>
</g>
<g font-size="17.5" font-weight="bold" text-anchor="end">
<text x="137" y="1452.4" textLength="31" lengthAdjust="spacingAndGlyphs">0.0</text>
<text x="137" y="1374.75" textLength="31" lengthAdjust="spacingAndGlyphs">0.5</text>
<text x="137" y="1297.1" textLength="31" lengthAdjust="spacingAndGlyphs">1.0</text>
<text x="137" y="1219.45" textLength="31" lengthAdjust="spacingAndGlyphs">1.5</text>
</g>
<text x="330.5" y="1217.3" font-size="26" font-weight="bold" text-anchor="middle" letter-spacing="2.7">**</text>
<g font-size="21.5" text-anchor="middle">
<text transform="translate(74.4,1329.2) rotate(-90)" textLength="147" lengthAdjust="spacingAndGlyphs">Relative Klotho</text>
<text transform="translate(97.8,1329.8) rotate(-90)" textLength="165" lengthAdjust="spacingAndGlyphs">Gene Expression</text>
</g>
<g font-size="18" font-weight="bold" text-anchor="end">
<text transform="translate(195.5,1474) rotate(-42)">Sham+Vehicle</text>
<text transform="translate(251.9,1474) rotate(-42)">Sham+ART</text>
<text transform="translate(308.6,1474) rotate(-42)">UUO+Vechile</text>
<text transform="translate(365.3,1474) rotate(-42)">UUO+ART</text>
</g>
</g>

<g>
<text x="701.5" y="1157.4" font-size="22" font-weight="bold" text-anchor="middle" textLength="257" lengthAdjust="spacingAndGlyphs">Wnt-1 Gene Expression</text>
<rect x="595.3" y="1430.9" width="39" height="24.5" fill="url(#pMint)" stroke="#4fae8c" stroke-width="1.5"/>
<rect x="653.4" y="1429.3" width="39" height="26.1" fill="url(#pBlue)" stroke="#3c3cff" stroke-width="1.5"/>
<rect x="712.5" y="1288.5" width="39" height="166.9" fill="url(#pYel)" stroke="#d4d44c" stroke-width="1.5"/>
<rect x="770.9" y="1332.9" width="39" height="122.5" fill="url(#pRed)" stroke="#d04848" stroke-width="1.5"/>
<g fill="none" stroke-width="2">
<path d="M614.8 1439.5V1422.3M605.1 1439.5H624.5M605.1 1422.3H624.5" stroke="#2b7d5c"/>
<path d="M672.9 1439.1V1419.2M663.2 1439.1H682.6M663.2 1419.2H682.6" stroke="#1a1aff"/>
<path d="M732 1327V1250M722.3 1327H741.7M722.3 1250H741.7" stroke="#cccc3a"/>
<path d="M790.4 1366.7V1299M780.7 1366.7H800.1M780.7 1299H800.1" stroke="#b83030"/>
</g>
<use href="#gE" x="614.8" y="1416.7"/><use href="#gE" x="600.9" y="1426"/><use href="#gE" x="609.8" y="1433.5"/><use href="#gE" x="619.5" y="1436.3"/><use href="#gE" x="629.3" y="1436.3"/><use href="#gE" x="600.9" y="1439.1"/>
<use href="#tE" x="669" y="1420.9"/><use href="#tE" x="687.6" y="1422.3"/><use href="#tE" x="659.8" y="1426"/><use href="#tE" x="677.9" y="1427.9"/><use href="#tE" x="677.9" y="1439.1"/><use href="#tE" x="669" y="1446.1"/>
<use href="#dE" x="732" y="1229"/><use href="#dE" x="717.3" y="1259.9"/><use href="#dE" x="746.8" y="1259.9"/><use href="#dE" x="732" y="1272.5"/><use href="#dE" x="732" y="1306.9"/><use href="#dE" x="717.3" y="1320.1"/><use href="#dE" x="746.8" y="1327.1"/><use href="#dE" x="732" y="1336.9"/>
<use href="#iE" x="790.4" y="1279.5"/><use href="#iE" x="790.4" y="1303.8"/><use href="#iE" x="776.5" y="1321.5"/><use href="#iE" x="804.8" y="1319.5"/><use href="#iE" x="790.4" y="1332.7"/><use href="#iE" x="790.4" y="1343.9"/><use href="#iE" x="790.4" y="1371.9"/><use href="#iE" x="790.4" y="1381.7"/>
<g stroke="#111" fill="none" stroke-width="3">
<path d="M576.5 1222V1456.8"/>
<path d="M565.3 1455.8H830.6"/>
<path d="M565.3 1455.4H576.5M565.3 1408.7H576.5M565.3 1362H576.5M565.3 1315.4H576.5M565.3 1268.7H576.5M565.3 1222H576.5"/>
<path d="M614.8 1455.5V1465.5M672.9 1455.5V1465.5M732 1455.5V1465.5M790.4 1455.5V1465.5"/>
<path d="M732 1215V1201H790.4V1215"/>
</g>
<g font-size="17.5" font-weight="bold" text-anchor="end">
<text x="563" y="1461.7">0</text>
<text x="563" y="1415">2</text>
<text x="563" y="1368.3">4</text>
<text x="563" y="1321.7">6</text>
<text x="563" y="1275">8</text>
<text x="563" y="1228.3" textLength="25" lengthAdjust="spacingAndGlyphs">10</text>
</g>
<text x="761.2" y="1201" font-size="26" font-weight="bold" text-anchor="middle">*</text>
<g font-size="21.5" text-anchor="middle">
<text transform="translate(474.5,1339) rotate(-90)" textLength="141.4" lengthAdjust="spacingAndGlyphs">Relative Wnt-1</text>
<text transform="translate(500.5,1338.3) rotate(-90)" textLength="173.7" lengthAdjust="spacingAndGlyphs">Gene Expression</text>
</g>
<g font-size="18" font-weight="bold" text-anchor="end">
<text transform="translate(622.8,1483) rotate(-42)">Sham+Vehicle</text>
<text transform="translate(680.9,1483) rotate(-42)">Sham+ART</text>
<text transform="translate(740,1483) rotate(-42)">UUO+Vechile</text>
<text transform="translate(798.4,1483) rotate(-42)">UUO+ART</text>
</g>
</g>

<g>
<text x="1119.8" y="1183.3" font-size="21" font-weight="bold" text-anchor="middle" textLength="249" lengthAdjust="spacingAndGlyphs">Snail-1 Gene Expression</text>
<rect x="1007.1" y="1416.3" width="35.8" height="29.3" fill="url(#pMint)" stroke="#4fae8c" stroke-width="1.5"/>
<rect x="1060.8" y="1416.3" width="35.8" height="29.3" fill="url(#pBlue)" stroke="#3c3cff" stroke-width="1.5"/>
<rect x="1115.1" y="1296.5" width="35.8" height="149.1" fill="url(#pYel)" stroke="#d4d44c" stroke-width="1.5"/>
<rect x="1169.4" y="1374.3" width="35.8" height="71.3" fill="url(#pRed)" stroke="#d04848" stroke-width="1.5"/>
<g fill="none" stroke-width="2">
<path d="M1025 1420.1V1414.2M1016 1420.1H1034M1016 1414.2H1034" stroke="#2b7d5c"/>
<path d="M1078.7 1420.7V1411.3M1069.7 1420.7H1087.7M1069.7 1411.3H1087.7" stroke="#1a1aff"/>
<path d="M1133 1334.7V1258.6M1124 1334.7H1142M1124 1258.6H1142" stroke="#cccc3a"/>
<path d="M1187.3 1398.6V1349.3M1178.3 1398.6H1196.3M1178.3 1349.3H1196.3" stroke="#b83030"/>
</g>
<use href="#gE" x="1011.2" y="1420.9"/><use href="#gE" x="1017.8" y="1412.5"/><use href="#gE" x="1025" y="1413.9"/><use href="#gE" x="1031.6" y="1413.1"/><use href="#gE" x="1038.2" y="1409.7"/><use href="#gE" x="1038.2" y="1420.9"/>
<use href="#tE" x="1066" y="1413.9"/><use href="#tE" x="1074.7" y="1409.7"/><use href="#tE" x="1084" y="1409.7"/><use href="#tE" x="1092.5" y="1413.9"/><use href="#tE" x="1074.7" y="1425.1"/><use href="#tE" x="1084" y="1422.3"/>
<use href="#dE" x="1119.8" y="1259"/><use href="#dE" x="1129" y="1264"/><use href="#dE" x="1137.5" y="1262.6"/><use href="#dE" x="1146.8" y="1266.9"/><use href="#dE" x="1129" y="1322.9"/><use href="#dE" x="1137.5" y="1318.1"/><use href="#dE" x="1137.5" y="1331.3"/><use href="#dE" x="1133" y="1353.7"/>
<use href="#iE" x="1187.3" y="1327.1"/><use href="#iE" x="1187.3" y="1346.7"/><use href="#iE" x="1174.1" y="1374.7"/><use href="#iE" x="1187.3" y="1378.9"/><use href="#iE" x="1201.1" y="1378.9"/><use href="#iE" x="1174.1" y="1395.7"/><use href="#iE" x="1187.3" y="1394.3"/><use href="#iE" x="1201.1" y="1394.3"/>
<g stroke="#111" fill="none" stroke-width="3">
<path d="M989.2 1210.8V1447"/>
<path d="M979.4 1446H1224.4"/>
<path d="M979.4 1445.6H989.2M979.4 1386.9H989.2M979.4 1328.2H989.2M979.4 1269.5H989.2M979.4 1210.8H989.2"/>
<path d="M1025 1446V1456M1078.7 1446V1456M1133 1446V1456M1187.3 1446V1456"/>
<path d="M1133 1244.4V1231H1187.3V1244.4"/>
</g>
<g font-size="17.5" font-weight="bold" text-anchor="end">
<text x="975.5" y="1451.9">0</text>
<text x="975.5" y="1393.2">2</text>
<text x="975.5" y="1334.5">4</text>
<text x="975.5" y="1275.8">6</text>
<text x="975.5" y="1217.1">8</text>
</g>
<text x="1162.5" y="1232" font-size="26" font-weight="bold" text-anchor="middle" letter-spacing="3.5">****</text>
<g font-size="21.5" text-anchor="middle">
<text transform="translate(906.3,1327.7) rotate(-90)" textLength="155.5" lengthAdjust="spacingAndGlyphs">Relative Snail-1</text>
<text transform="translate(931.5,1328.4) rotate(-90)" textLength="173.7" lengthAdjust="spacingAndGlyphs">Gene Expression</text>
</g>
<g font-size="18" font-weight="bold" text-anchor="end">
<text transform="translate(1033,1474) rotate(-44)">Sham+Vehicle</text>
<text transform="translate(1086.7,1474) rotate(-44)">Sham+ART</text>
<text transform="translate(1141,1474) rotate(-44)">UUO+Vechile</text>
<text transform="translate(1195.3,1474) rotate(-44)">UUO+ART</text>
</g>
</g>
</svg>
</body></html>
